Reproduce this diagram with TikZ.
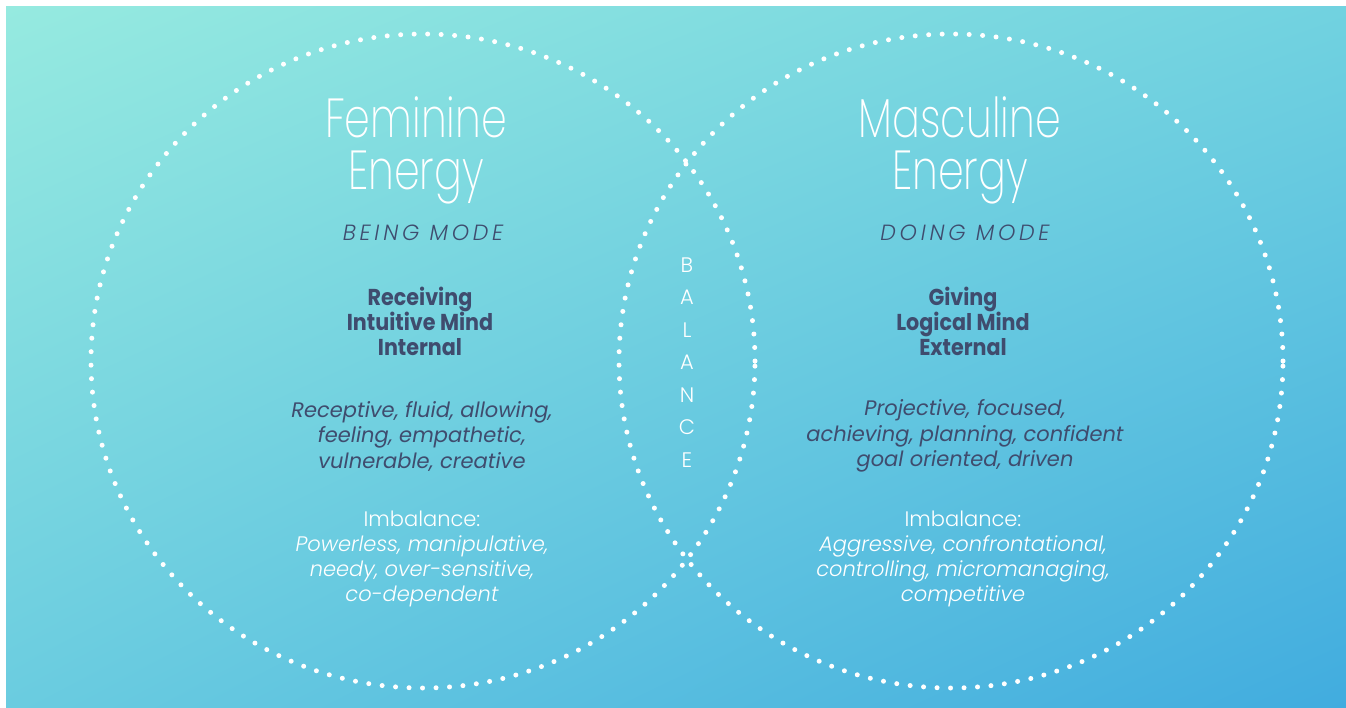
\documentclass[tikz,border=0pt]{standalone}
\usepackage{fontspec}
\setmainfont{Poppins Light}
\newfontfamily\headfont{Poppins ExtraLight}[FakeStretch=0.75]
\newfontfamily\modefont{Poppins Light Italic}[LetterSpace=17]
\newfontfamily\keyfont{Poppins Bold}[FakeStretch=0.9]
\newfontfamily\descfont{Poppins Italic}
\newfontfamily\imbfont{Poppins Light Italic}
\newfontfamily\plainfont{Poppins Light}
\usetikzlibrary{shapes.geometric,shadings}
\definecolor{slate}{HTML}{3F4C6E}
\definecolor{mintTL}{HTML}{96EAE0}
\definecolor{mintTR}{HTML}{71D2E0}
\definecolor{skyBL}{HTML}{6ACCE0}
\definecolor{skyBR}{HTML}{41ACDF}

\begin{document}
\begin{tikzpicture}[x=1pt,y=-1pt,
   ring/.style={draw=white,ellipse,line width=5pt,line cap=round,
     dash pattern=on 0pt off 13.5pt,minimum width=664pt,minimum height=654pt,inner sep=0pt},
   heading/.style={text=white,align=center,font=\headfont\fontsize{55}{52}\selectfont},
   modeline/.style={text=slate,font=\modefont\fontsize{22}{26}\selectfont},
   keyline/.style={text=slate,align=center,font=\keyfont\fontsize{23}{25}\selectfont},
   descline/.style={text=slate,align=center,font=\descfont\fontsize{21}{25.5}\selectfont},
   imbline/.style={text=white,align=center,font=\plainfont\fontsize{21}{25}\selectfont},
   balance/.style={text=white,font=\plainfont\fontsize{21}{21}\selectfont}]
\useasboundingbox[fill=white] (0,0) rectangle (1346,708);
\shade[upper left=mintTL,upper right=mintTR,lower left=skyBL,lower right=skyBR]
  (6,7) rectangle (1346,708);

% the two energies
\node[ring] (fem) at (423,361) {};
\node[ring] (masc) at (951,361) {};

% feminine side
\node[heading] (femTitle) at (416,150) {Feminine\\Energy};
\node[modeline] (femMode) at (423,233) {BEING MODE};
\node[keyline] (femKey) at (420,321) {Receiving\\Intuitive Mind\\Internal};
\node[descline] (femDesc) at (422,436) {Receptive, fluid, allowing,\\feeling, empathetic,\\vulnerable, creative};
\node[imbline] (femImb) at (422,559) {Imbalance:\\\imbfont Powerless, manipulative,\\\imbfont needy, over-sensitive,\\\imbfont co-dependent};

% masculine side
\node[heading] (mascTitle) at (960,150) {Masculine\\Energy};
\node[modeline] (mascMode) at (965,233) {DOING MODE};
\node[keyline] (mascKey) at (963,321) {Giving\\Logical Mind\\External};
\node[descline] (mascDesc) at (965,436) {Projective, focused,\\achieving, planning, confident\\goal oriented, driven};
\node[imbline] (mascImb) at (963,559) {Imbalance:\\\imbfont Aggressive, confrontational,\\\imbfont controlling, micromanaging,\\\imbfont competitive};

% balance in the overlap
\foreach \l [count=\i] in {B,A,L,A,N,C,E}
  \node[balance] (bal\i) at (687,{265+32.5*(\i-1)}) {\l};
\end{tikzpicture}
\end{document}
